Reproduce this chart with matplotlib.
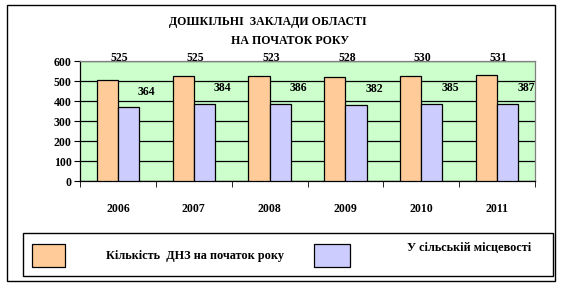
import numpy as np
import matplotlib.pyplot as plt
from matplotlib.patches import Rectangle

# data
years = ['2006', '2007', '2008', '2009', '2010', '2011']
total = [505, 525, 525, 520, 525, 531]          # bar heights as drawn
total_labels = ['525', '525', '523', '528', '530', '531']
rural = [368, 387, 387, 382, 387, 387]
rural_labels = ['364', '384', '386', '382', '385', '387']
yticks = [0, 100, 200, 300, 400, 500, 600]

title1 = 'ДОШКІЛЬНІ  ЗАКЛАДИ ОБЛАСТІ'
title2 = 'НА ПОЧАТОК РОКУ'
leg1 = 'Кількість  ДНЗ на початок року'
leg2 = 'У сільській місцевості'

c_total = '#FFCC99'
c_rural = '#CCCCFF'
c_bg = '#CCFFCC'

plt.rcParams['font.family'] = ['Liberation Serif', 'DejaVu Serif']
plt.rcParams['font.weight'] = 'bold'

W, H = 567, 287
fig = plt.figure(figsize=(W / 100, H / 100), dpi=100)

def fx(px):
    return px / W

def fy(py):
    return 1 - py / H

ax = fig.add_axes([fx(80), fy(181), fx(535) - fx(80), fy(61) - fy(181)])
ax.set_facecolor(c_bg)

x = np.arange(len(years))
bw = 0.28
ax.bar(x - bw / 2, total, bw, color=c_total, edgecolor='black', linewidth=0.9, zorder=3)
ax.bar(x + bw / 2, rural, bw, color=c_rural, edgecolor='black', linewidth=0.9, zorder=3)

# value labels (placed the way the original chart shows them)
for i in range(len(years)):
    ax.text(x[i] + 0.02, 615, total_labels[i], ha='center', va='center',
            fontsize=8.5, fontweight='bold', clip_on=False)
    ax.text(x[i] + 0.38, rural[i] + 78, rural_labels[i], ha='center', va='center',
            fontsize=8.5, fontweight='bold')

ax.set_xlim(-0.5, len(years) - 0.5)
ax.set_ylim(0, 600)
ax.set_yticks(yticks)
ax.set_yticklabels([str(v) for v in yticks], fontsize=8.5, fontweight='bold')
ax.yaxis.grid(True, color='black', linewidth=0.9, zorder=1)
ax.set_axisbelow(True)

ax.set_xticks(x)
ax.set_xticklabels(years, fontsize=8.5, fontweight='bold')
ax.tick_params(axis='x', which='major', length=0, pad=16)
ax.set_xticks(np.arange(-0.5, len(years)), minor=True)
ax.tick_params(axis='x', which='minor', length=4, direction='out')
ax.tick_params(axis='y', length=4, direction='out', pad=2)

ax.spines['left'].set_color('black')
ax.spines['bottom'].set_color('black')
ax.spines['top'].set_color('#808080')
ax.spines['right'].set_color('#808080')
for s in ax.spines.values():
    s.set_linewidth(0.9)

# titles
fig.text(fx(268), fy(22), title1, ha='center', va='center', fontsize=8.6, fontweight='bold')
fig.text(fx(290), fy(41), title2, ha='center', va='center', fontsize=8.6, fontweight='bold')

# outer frame
fig.add_artist(Rectangle((fx(7), fy(281)), fx(555) - fx(7), fy(5) - fy(281),
                         transform=fig.transFigure, fill=False, edgecolor='black', linewidth=1))

# legend box
fig.add_artist(Rectangle((fx(23), fy(276)), fx(553) - fx(23), fy(233) - fy(276),
                         transform=fig.transFigure, fill=False, edgecolor='black', linewidth=1))
fig.add_artist(Rectangle((fx(32), fy(267)), fx(65) - fx(32), fy(244) - fy(267),
                         transform=fig.transFigure, facecolor=c_total, edgecolor='black', linewidth=0.9))
fig.add_artist(Rectangle((fx(314), fy(267)), fx(350) - fx(314), fy(244) - fy(267),
                         transform=fig.transFigure, facecolor=c_rural, edgecolor='black', linewidth=0.9))
fig.text(fx(106), fy(256), leg1, ha='left', va='center', fontsize=8.8, fontweight='bold')
fig.text(fx(407), fy(248), leg2, ha='left', va='center', fontsize=8.8, fontweight='bold')

fig.savefig('out.png', dpi=100)
